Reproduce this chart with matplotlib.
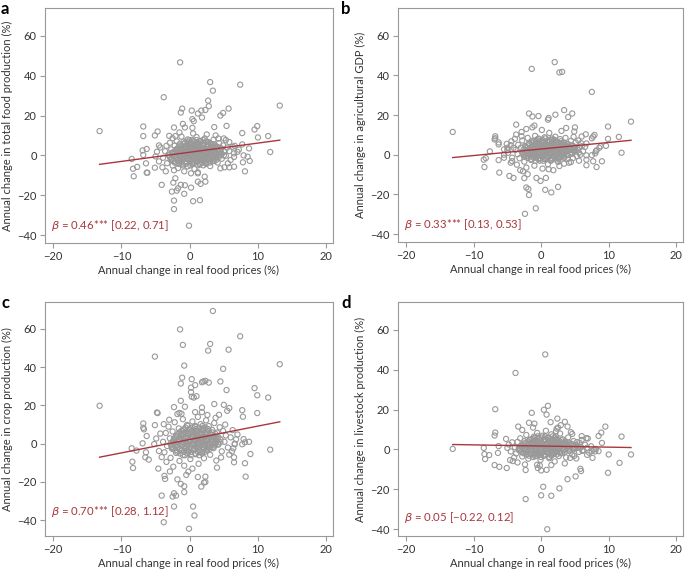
import matplotlib
matplotlib.use("Agg")
import matplotlib.pyplot as plt
import numpy as np

plt.rcParams['font.family'] = ['Lato', 'DejaVu Sans']
plt.rcParams['axes.unicode_minus'] = True

# Panel a: total food production (price change %, production change %)
points_a = [
    (-13.2, 12.2), (-1.4, 46.7), (3.0, 36.8), (7.4, 35.5), (3.4, 32.5), (-3.8, 29.2), (2.7, 27.5),
    (2.8, 24.7), (-1.1, 23.5), (-1.3, 21.5), (0.3, 22.5), (1.2, 21.0), (1.8, 19.0), (1.7, 22.5),
    (2.3, 22.8), (5.7, 23.5), (4.5, 20.0), (4.9, 21.3), (13.2, 25.0), (9.9, 14.7), (9.5, 13.0),
    (5.4, 14.8), (3.6, 14.2), (7.7, 11.2), (11.5, 9.7), (10.0, 9.0), (11.8, 1.7), (-6.8, 14.5),
    (-6.8, 9.7), (-4.7, 12.0), (-5.1, 10.0), (-1.0, 15.8), (-0.7, 14.0), (-2.3, 14.0), (0.4, 18.2),
    (0.6, 17.2), (0.4, 13.8), (-2.1, 9.7), (-8.5, -1.8), (-8.3, -6.7), (-7.7, -5.8), (-8.2, -10.5),
    (-6.3, -8.7), (-6.2, -8.7), (-6.4, -4.0), (-6.8, 0.2), (-6.9, 2.5), (-6.3, 3.2), (-5.1, -6.2),
    (-4.5, 5.0), (-4.1, -14.8), (-2.4, -13.7), (-2.6, -18.2), (-2.3, -22.7), (-2.3, -27.0),
    (-1.9, -17.7), (-1.7, -16.5), (-1.3, -14.8), (-0.8, -19.3), (-0.7, -15.0), (0.2, -16.2),
    (-0.1, -35.3), (0.5, -23.0), (1.5, -22.5), (1.6, -14.3), (1.2, -13.2), (2.3, -13.2),
    (2.2, -10.7), (1.2, -9.0), (0.2, -9.0), (-2.1, -11.5), (8.1, -8.0), (5.1, -6.0), (5.8, -6.0),
    (6.5, -5.7), (7.8, -3.5), (8.8, -2.8), (8.5, -0.7), (7.9, 0.0), (8.7, 3.5), (7.7, 5.5),
    (6.6, 4.8), (5.8, 6.7), (5.3, 7.7), (4.2, 8.5), (6.5, 1.0), (7.0, 1.8),
    (-3.9, -1.2), (-3.6, 2.1), (-3.4, 4.8), (-3.3, -3.9), (-3.1, 0.4), (-2.9, 6.3), (-2.8, -2.2),
    (-2.7, 3.0), (-2.5, 8.6), (-2.5, -5.1), (-2.4, 1.2), (-2.2, 4.9), (-2.1, -0.8), (-2.0, -3.3),
    (-1.9, 7.1), (-1.8, 2.4), (-1.7, -6.4), (-1.6, 0.0), (-1.5, 5.6), (-1.4, -2.0), (-1.3, 3.5),
    (-1.2, 9.4), (-1.1, -4.2), (-1.0, 1.3), (-0.9, 6.9), (-0.8, -1.1), (-0.7, 3.9), (-0.6, -3.0),
    (-0.5, 0.6), (-0.4, 5.2), (-0.3, 8.0), (-0.3, -5.5), (-0.2, 2.2), (-0.1, -0.3), (0.0, 4.1),
    (0.1, 6.4), (0.1, -2.4), (0.2, 1.0), (0.3, 3.1), (0.4, -4.0), (0.4, 7.6), (0.5, -0.9),
    (0.6, 5.0), (0.7, 2.0), (0.7, -6.8), (0.8, 0.2), (0.9, 3.8), (1.0, 9.2), (1.0, -2.8),
    (1.1, 6.0), (1.2, 1.5), (1.3, -1.4), (1.4, 4.4), (1.5, -4.6), (1.5, 2.6), (1.6, 7.3),
    (1.7, 0.3), (1.8, 5.3), (1.9, -2.1), (2.0, 3.3), (2.1, -0.6), (2.2, 8.5), (2.3, 1.8),
    (2.4, -3.7), (2.5, 4.9), (2.6, 0.8), (2.7, 6.7), (2.8, -1.6), (2.9, 2.9), (3.0, -5.4),
    (3.1, 5.8), (3.2, 0.1), (3.3, 3.9), (3.4, -2.6), (3.5, 7.9), (3.6, 1.4), (3.8, -0.9),
    (3.9, 4.6), (4.0, 2.3), (4.1, -3.6), (4.3, 6.1), (4.4, 0.5), (4.6, 3.5), (4.7, -1.7),
    (4.9, 5.0), (5.1, 1.9), (5.3, -0.2), (5.5, 3.9), (5.8, 2.2), (6.0, -2.3),
    (-4.5, -3.0), (-4.3, 4.0), (-4.0, -6.0), (-3.5, -8.0), (-3.0, 9.8), (-5.0, -0.5),
    (-4.8, 1.8), (4.5, -6.5), (5.0, 8.5), (3.8, 10.0), (-1.5, 11.5), (0.5, 11.0), (2.5, 10.5),
    (1.2, -8.5), (-0.8, -8.0), (-2.3, -7.5), (6.3, 4.3), (6.5, -0.8), (7.2, 2.9), (5.6, -4.0),
]
# dense centre of panel a: (y, [x values]) rows
dense_a = [
    (-5.0, [-1.0, 0.1, 1.2, 2.0]),
    (-4.3, [-1.6, -0.6, 0.4, 1.4, 2.4]),
    (-3.6, [-2.2, -1.3, -0.4, 0.5, 1.4, 2.2, 3.0]),
    (-2.9, [-2.4, -1.5, -0.6, 0.3, 1.2, 2.1, 3.0, 3.6]),
    (-2.2, [-2.6, -1.8, -1.0, -0.2, 0.6, 1.5, 2.3, 3.1, 3.9]),
    (-1.5, [-2.7, -1.9, -1.1, -0.3, 0.5, 1.3, 2.1, 2.9, 3.7]),
    (-0.8, [-2.9, -2.1, -1.3, -0.5, 0.3, 1.1, 1.9, 2.7, 3.5, 4.3]),
    (0.0, [-3.0, -2.2, -1.4, -0.6, 0.2, 1.0, 1.8, 2.6, 3.4, 4.2, 5.0]),
    (0.7, [-2.5, -1.7, -0.9, -0.1, 0.7, 1.5, 2.3, 3.1, 3.9, 4.7]),
    (1.4, [-2.6, -1.8, -1.0, -0.2, 0.6, 1.4, 2.2, 3.0, 3.8, 4.6]),
    (2.1, [-2.2, -1.4, -0.6, 0.2, 1.0, 1.8, 2.6, 3.4, 4.2, 5.0]),
    (2.8, [-2.0, -1.2, -0.4, 0.4, 1.2, 2.0, 2.8, 3.6, 4.4]),
    (3.5, [-1.8, -1.0, -0.2, 0.6, 1.4, 2.2, 3.0, 3.8, 4.6]),
    (4.2, [-1.5, -0.7, 0.1, 0.9, 1.7, 2.5, 3.3, 4.1]),
    (4.9, [-1.2, -0.4, 0.4, 1.2, 2.0, 2.8, 3.6]),
    (5.6, [-0.9, 0.0, 0.9, 1.8, 2.7, 3.4]),
    (6.3, [-0.7, 0.2, 1.1, 2.0, 2.9]),
    (7.0, [-0.3, 0.6, 1.5, 2.4]),
    (7.7, [0.0, 1.0, 2.0]),
]

# Panel b: agricultural GDP
points_b = [
    (-13.1, 11.5), (2.0, 46.7), (-1.4, 43.3), (2.7, 41.5), (3.1, 41.8), (7.5, 31.7), (13.3, 16.7),
    (9.9, 14.2), (11.5, 9.0), (9.9, 8.0), (11.9, 1.0), (3.4, 22.5), (4.6, 20.8), (4.0, 19.0),
    (2.1, 20.2), (-1.8, 20.8), (-1.3, 19.3), (-0.4, 19.5), (1.0, 17.7), (1.1, 18.5), (3.7, 13.5),
    (5.0, 13.8), (4.9, 11.7), (-3.7, 15.2), (-2.2, 13.0), (-1.3, 13.8), (-1.0, 14.7), (-3.7, 10.2),
    (-2.9, 9.3), (-6.8, 9.3), (-6.8, 8.3), (-6.9, 7.7), (-6.3, 6.2), (-6.3, 5.2), (-7.6, 1.7),
    (-8.5, -2.5), (-8.2, -1.7), (-8.4, -6.2), (-6.3, -2.7), (-6.2, -9.0), (-4.7, -10.7),
    (-4.1, -11.7), (-2.5, -11.8), (-2.0, -9.8), (-2.2, -16.5), (-1.9, -17.3), (-1.8, -20.3),
    (-2.4, -29.8), (-0.8, -27.0), (0.6, -17.7), (1.5, -19.0), (2.5, -16.2), (-0.7, -11.7),
    (-0.1, -13.2), (0.7, -11.7), (1.1, -7.3), (1.8, -7.8), (2.7, -5.7), (4.1, -4.0), (4.4, -3.7),
    (4.7, -1.7), (6.7, -0.3), (7.5, -0.2), (6.7, -5.3), (6.7, -2.5), (7.7, -3.3), (8.2, -6.2),
    (9.0, -3.3), (8.0, 0.7), (8.1, 1.8), (8.2, 2.2), (8.6, 3.5), (8.8, 4.3), (9.6, 4.5),
    (6.6, 10.3), (7.7, 9.2), (7.9, 10.0), (7.5, 8.3), (6.0, 9.2), (5.5, 7.2), (6.7, 5.7),
    (6.0, 4.3), (5.1, 2.2), (5.6, 1.0), (5.8, 0.0), (-5.1, 5.5), (-5.0, 3.5), (-4.9, 1.0),
    (-4.5, -4.0), (-4.3, -3.2), (-3.1, -7.8), (-2.7, -8.3), (-4.1, 3.5), (-4.4, 6.8), (-5.5, 2.7),
    (-5.0, 2.3), (-5.5, 0.0),
    (-3.8, 2.5), (-3.5, 0.3), (-3.4, 5.0), (-3.2, -1.8), (-3.0, 3.6), (-2.8, 7.2), (-2.7, 1.0),
    (-2.5, -3.5), (-2.4, 4.4), (-2.2, 2.0), (-2.0, 8.5), (-1.9, -0.8), (-1.8, 5.8), (-1.6, 3.1),
    (-1.5, -2.6), (-1.4, 1.5), (-1.3, 7.0), (-1.1, 4.2), (-1.0, 0.0), (-0.9, 9.5), (-0.8, 2.7),
    (-0.7, -1.5), (-0.6, 5.4), (-0.5, 3.6), (-0.4, 1.0), (-0.3, 7.8), (-0.2, -3.0), (-0.1, 4.8),
    (0.0, 2.2), (0.1, 6.2), (0.2, 0.4), (0.3, 3.4), (0.4, -1.9), (0.5, 8.8), (0.6, 5.0),
    (0.7, 1.6), (0.8, 3.9), (0.9, -0.5), (1.0, 6.8), (1.1, 2.5), (1.2, 11.0), (1.3, 4.6),
    (1.4, 0.9), (1.5, -2.8), (1.6, 7.5), (1.7, 3.0), (1.8, 5.6), (1.9, -0.9), (2.0, 2.0),
    (2.1, 9.1), (2.2, 4.0), (2.3, 0.6), (2.4, 6.3), (2.5, -3.6), (2.6, 3.2), (2.7, 1.4),
    (2.8, 7.9), (2.9, 4.9), (3.0, -1.0), (3.1, 2.6), (3.2, 6.0), (3.3, 0.2), (3.5, 4.2),
    (3.6, 8.5), (3.7, 1.9), (3.9, -2.2), (4.0, 5.3), (4.2, 3.0), (4.4, 7.0), (4.5, 0.8),
    (4.7, 4.5), (4.9, 2.1), (5.1, 6.2), (5.3, -0.7), (5.6, 3.6), (5.9, 5.8), (6.2, 1.8), (6.5, 4.0),
    (-4.3, -1.5), (-4.5, 4.8), (-3.9, 8.0), (-3.6, -5.0), (-2.9, 11.5), (-2.2, -6.5),
    (-1.0, -5.5), (0.2, -7.0), (1.0, -4.8), (3.4, -4.5), (3.0, 12.0), (0.1, 12.5), (4.8, 9.0),
    (5.6, -3.0), (-5.5, -1.5), (-2.5, -1.0),
]
dense_b = [
    (-3.0, [-0.8, 0.3, 1.4, 2.4]),
    (-2.3, [-1.4, -0.4, 0.6, 1.6, 2.6]),
    (-1.6, [-2.0, -1.1, -0.2, 0.7, 1.6, 2.5, 3.4]),
    (-0.9, [-2.2, -1.4, -0.6, 0.2, 1.0, 1.8, 2.6, 3.4]),
    (-0.2, [-2.5, -1.7, -0.9, -0.1, 0.7, 1.5, 2.3, 3.1, 3.9]),
    (0.5, [-2.6, -1.8, -1.0, -0.2, 0.6, 1.4, 2.2, 3.0, 3.8, 4.6]),
    (1.2, [-2.8, -2.0, -1.2, -0.4, 0.4, 1.2, 2.0, 2.8, 3.6, 4.4]),
    (1.9, [-2.4, -1.6, -0.8, 0.0, 0.8, 1.6, 2.4, 3.2, 4.0, 4.8]),
    (2.6, [-2.6, -1.8, -1.0, -0.2, 0.6, 1.4, 2.2, 3.0, 3.8, 4.6, 5.4]),
    (3.3, [-2.2, -1.4, -0.6, 0.2, 1.0, 1.8, 2.6, 3.4, 4.2, 5.0]),
    (4.0, [-2.3, -1.5, -0.7, 0.1, 0.9, 1.7, 2.5, 3.3, 4.1, 4.9]),
    (4.7, [-2.0, -1.2, -0.4, 0.4, 1.2, 2.0, 2.8, 3.6, 4.4]),
    (5.4, [-1.8, -1.0, -0.2, 0.6, 1.4, 2.2, 3.0, 3.8]),
    (6.1, [-1.4, -0.6, 0.2, 1.0, 1.8, 2.6, 3.4]),
    (6.8, [-1.1, -0.3, 0.5, 1.3, 2.1, 2.9]),
    (7.5, [-0.7, 0.2, 1.1, 2.0]),
    (8.2, [-0.4, 0.6, 1.6]),
]

# Panel c: crop production
points_c = [
    (-13.2, 19.8), (3.4, 69.3), (-1.4, 59.7), (7.4, 56.1), (-1.0, 51.6), (3.0, 52.1), (2.7, 48.6),
    (5.7, 49.1), (-5.1, 45.5), (-0.8, 40.8), (4.9, 39.1), (13.2, 41.5), (-1.1, 34.5), (-1.3, 31.4),
    (0.3, 33.7), (0.8, 30.6), (1.8, 32.1), (2.0, 32.5), (2.3, 32.8), (2.8, 31.9), (4.5, 32.5),
    (5.4, 28.0), (9.5, 29.0), (9.9, 25.3), (11.5, 24.1), (0.2, 29.3), (0.2, 26.9), (0.3, 24.5),
    (0.6, 24.1), (1.0, 24.8), (-1.3, 22.4), (-2.3, 19.1), (-0.7, 19.3), (3.6, 20.7), (5.0, 20.3),
    (1.8, 18.9), (1.8, 16.5), (5.8, 18.6), (5.5, 17.2), (7.7, 17.5), (7.8, 14.1), (4.3, 15.1),
    (9.9, 16.0), (-4.8, 16.3), (-4.7, 16.0), (-1.5, 16.1), (-1.2, 15.6), (-6.8, 10.6), (-6.8, 8.3),
    (-6.7, 7.5), (-5.1, 9.7), (-3.8, 10.2), (-6.3, 4.0), (-6.9, 0.2), (-8.5, -2.4), (-7.8, -3.6),
    (-8.4, -9.4), (-8.3, -12.7), (-6.4, -4.5), (-6.5, -7.1), (-6.0, -8.3), (-4.6, -13.0),
    (-3.7, -16.8), (-3.6, -18.4), (-4.1, -27.1), (-2.3, -25.9), (-2.5, -27.6), (-2.0, -27.1),
    (-2.3, -32.8), (-3.8, -41.0), (-0.1, -44.4), (0.5, -32.8), (0.7, -37.5), (-0.8, -25.3),
    (-0.8, -22.2), (-1.3, -21.0), (-1.8, -18.6), (-0.5, -16.3), (-0.2, -14.6), (1.2, -17.4),
    (1.7, -22.4), (2.3, -20.0), (2.1, -20.3), (2.3, -17.2), (4.0, -12.5), (6.5, -9.7), (6.5, -7.1),
    (5.8, -5.7), (8.1, -10.2), (8.2, -17.2), (8.9, -5.4), (11.8, -3.1), (7.7, -0.3), (8.1, 0.7),
    (8.7, 1.0), (7.9, 2.4), (6.6, -0.3), (6.8, 2.3), (6.4, -2.4),
    (-3.9, 1.0), (-3.7, -4.5), (-3.5, 5.6), (-3.3, -1.2), (-3.1, 8.9), (-2.9, 2.8), (-2.8, -7.4),
    (-2.6, -2.6), (-2.5, 6.4), (-2.3, 0.3), (-2.2, 11.2), (-2.0, -4.8), (-1.9, 3.9), (-1.8, -0.9),
    (-1.6, 8.0), (-1.5, -9.0), (-1.4, 1.8), (-1.3, 5.0), (-1.1, -3.3), (-1.0, 12.8), (-0.9, 0.5),
    (-0.8, 7.0), (-0.7, -6.0), (-0.6, 3.3), (-0.5, -1.8), (-0.4, 9.8), (-0.3, 5.4), (-0.2, -4.0),
    (-0.1, 1.4), (0.0, 7.6), (0.1, -8.0), (0.2, 3.9), (0.3, -0.4), (0.4, 11.6), (0.5, 5.9),
    (0.6, -2.7), (0.7, 2.2), (0.8, 8.7), (0.9, -5.5), (1.0, 4.5), (1.1, 0.6), (1.2, 14.0),
    (1.3, 6.6), (1.4, -1.6), (1.5, 2.9), (1.6, 10.2), (1.7, -4.3), (1.8, 5.0), (1.9, 0.9),
    (2.0, 7.9), (2.1, -7.6), (2.2, 3.5), (2.3, -0.8), (2.4, 12.2), (2.5, 6.0), (2.6, -3.1),
    (2.7, 2.0), (2.8, 9.2), (3.0, -5.8), (3.1, 4.4), (3.2, 0.0), (3.3, 7.2), (3.5, -2.3),
    (3.6, 10.8), (3.8, 3.0), (3.9, -8.8), (4.0, 5.8), (4.2, -0.5), (4.4, 8.6), (4.5, 2.4),
    (4.7, -4.0), (4.9, 6.7), (5.1, 1.0), (5.3, 4.3), (5.6, -2.0), (6.0, 3.3), (6.3, 7.1), (6.6, 0.0),
    (-4.5, -3.8), (-4.3, 5.3), (-4.1, -7.0), (-3.4, -9.5), (-3.0, 12.5), (-5.2, -0.2), (-4.9, 2.7),
    (4.6, -7.2), (5.2, 10.0), (3.8, 13.5), (-1.8, 15.5), (0.8, 16.5), (2.6, 15.0), (1.3, -10.5),
    (-0.8, -11.5), (-2.4, -12.0), (6.2, -4.0), (7.0, 4.8), (-2.9, -14.5), (0.4, -13.0),
]
dense_c = [
    (-6.0, [-1.0, 0.2, 1.4]),
    (-5.1, [-1.4, -0.3, 0.8, 1.8]),
    (-4.3, [-1.8, -0.8, 0.2, 1.2, 2.2]),
    (-3.4, [-2.1, -1.2, -0.3, 0.6, 1.5, 2.5]),
    (-2.6, [-2.4, -1.5, -0.6, 0.3, 1.2, 2.1, 3.0]),
    (-1.7, [-2.6, -1.7, -0.8, 0.1, 1.0, 1.9, 2.8, 3.4]),
    (-0.9, [-2.7, -1.9, -1.1, -0.3, 0.5, 1.3, 2.1, 2.9, 3.7]),
    (0.0, [-2.8, -2.0, -1.2, -0.4, 0.4, 1.2, 2.0, 2.8, 3.6, 4.2]),
    (0.8, [-2.5, -1.7, -0.9, -0.1, 0.7, 1.5, 2.3, 3.1, 3.9, 4.5]),
    (1.6, [-2.4, -1.6, -0.8, 0.0, 0.8, 1.6, 2.4, 3.2, 4.0]),
    (2.5, [-2.3, -1.5, -0.7, 0.1, 0.9, 1.7, 2.5, 3.3, 4.1]),
    (3.3, [-2.1, -1.3, -0.5, 0.3, 1.1, 1.9, 2.7, 3.5, 4.2]),
    (4.2, [-2.0, -1.2, -0.4, 0.4, 1.2, 2.0, 2.8, 3.6]),
    (5.0, [-1.7, -0.9, -0.1, 0.7, 1.5, 2.3, 3.1, 3.8]),
    (5.9, [-1.5, -0.7, 0.1, 0.9, 1.7, 2.5, 3.3]),
    (6.7, [-1.2, -0.4, 0.4, 1.2, 2.0, 2.8]),
    (7.6, [-0.9, 0.0, 0.9, 1.8, 2.7]),
    (8.4, [-0.6, 0.4, 1.4, 2.3]),
    (9.3, [-0.3, 0.8, 1.9]),
]

# Panel d: livestock production
points_d = [
    (-13.1, 0.3), (0.6, 47.7), (-3.8, 38.4), (-6.8, 20.2), (0.4, 19.9), (1.0, 21.9), (0.8, 17.5),
    (-1.4, 18.4), (2.4, 15.5), (1.4, 13.7), (3.5, 13.9), (3.9, 11.5), (9.5, 11.5), (8.9, 8.5),
    (8.5, 6.8), (11.9, 6.5), (9.0, 3.3), (-3.4, 11.5), (-1.8, 13.4), (-1.0, 13.0), (-6.8, 8.5),
    (-6.9, 7.0), (-5.2, 5.3), (-8.5, 0.8), (-8.4, -2.3), (-8.3, -4.8), (-7.7, -2.8), (-6.3, 1.7),
    (-6.4, -1.7), (-6.9, -7.8), (-6.2, -8.7), (-5.1, -9.3), (-4.6, -5.3), (-4.2, -5.8),
    (-2.3, -10.3), (-2.3, -24.9), (0.0, -23.0), (0.3, -18.7), (1.5, -23.2), (2.7, -19.5),
    (3.9, -14.9), (0.9, -40.0), (5.1, -13.5), (5.8, -9.7), (5.9, -10.8), (9.9, -11.7),
    (11.6, -6.7), (13.3, -2.5), (10.0, -2.5), (8.1, 0.3), (7.6, -4.2), (6.8, -2.7), (6.1, -0.7),
    (0.8, -10.2), (0.0, -10.5), (-0.5, -9.3), (-0.6, -7.7), (4.3, -4.2), (4.9, -3.2), (6.7, 5.7),
    (6.9, 5.5), (5.7, 3.3), (5.3, 3.7), (6.0, 6.7), (4.6, 7.8), (2.9, 12.2), (2.5, 11.0),
    (2.2, 9.2), (8.0, -1.0), (7.5, -0.8), (8.5, -0.8),
    (-3.9, 1.2), (-3.7, -2.0), (-3.5, 3.8), (-3.3, -0.3), (-3.1, 5.6), (-2.9, 1.9), (-2.8, -3.5),
    (-2.6, 0.4), (-2.5, 4.2), (-2.3, -1.4), (-2.2, 7.3), (-2.0, 2.6), (-1.9, -4.6), (-1.8, 0.9),
    (-1.6, 5.0), (-1.5, -2.3), (-1.4, 3.2), (-1.3, -0.1), (-1.1, 6.4), (-1.0, 1.6), (-0.9, -3.4),
    (-0.8, 4.4), (-0.7, 0.2), (-0.6, 8.3), (-0.5, 2.4), (-0.4, -1.7), (-0.3, 5.5), (-0.2, 0.8),
    (-0.1, -5.2), (0.0, 3.4), (0.1, -0.6), (0.2, 6.9), (0.3, 1.8), (0.4, -2.9), (0.5, 4.7),
    (0.6, 0.3), (0.7, 9.4), (0.8, 2.6), (0.9, -1.3), (1.0, 5.8), (1.1, 1.0), (1.2, -4.4),
    (1.3, 3.6), (1.4, -0.4), (1.5, 7.6), (1.6, 2.1), (1.7, -2.4), (1.8, 4.8), (1.9, 0.5),
    (2.0, -6.0), (2.1, 3.0), (2.2, 6.5), (2.3, -1.0), (2.4, 1.7), (2.5, 4.0), (2.6, -3.3),
    (2.7, 0.6), (2.8, 8.0), (3.0, 2.3), (3.1, -1.8), (3.2, 5.1), (3.4, 0.1), (3.5, 3.3),
    (3.7, -4.0), (3.9, 1.5), (4.0, 6.1), (4.2, -0.8), (4.4, 2.8), (4.6, -2.6), (4.8, 4.2),
    (5.0, 0.7), (5.3, 2.0), (5.6, -1.2), (5.9, 1.1), (6.2, -0.3), (6.5, 2.4), (6.8, 0.9),
    (7.1, -1.6), (7.4, 1.6), (7.8, 0.0),
    (-4.5, -1.0), (-4.3, 3.6), (-4.0, -4.0), (-3.5, -6.5), (-2.8, 9.8), (-5.0, 0.8),
    (-4.8, 2.5), (3.5, -7.0), (4.4, 8.7), (2.3, 10.5), (-1.2, 11.0), (-0.2, -8.0), (1.5, -7.8),
    (-2.4, -7.5), (6.0, 4.8), (5.2, -4.5),
]
dense_d = [
    (-3.8, [-1.2, 0.0, 1.2]),
    (-3.1, [-1.8, -0.7, 0.4, 1.5]),
    (-2.5, [-2.2, -1.3, -0.4, 0.5, 1.4, 2.3]),
    (-1.9, [-2.6, -1.7, -0.8, 0.1, 1.0, 1.9, 2.8]),
    (-1.2, [-2.9, -2.1, -1.3, -0.5, 0.3, 1.1, 1.9, 2.7, 3.5]),
    (-0.5, [-3.1, -2.3, -1.5, -0.7, 0.1, 0.9, 1.7, 2.5, 3.3, 4.1]),
    (0.1, [-3.2, -2.4, -1.6, -0.8, 0.0, 0.8, 1.6, 2.4, 3.2, 4.0, 4.8]),
    (0.8, [-3.3, -2.5, -1.7, -0.9, -0.1, 0.7, 1.5, 2.3, 3.1, 3.9, 4.7, 5.4]),
    (1.4, [-3.0, -2.2, -1.4, -0.6, 0.2, 1.0, 1.8, 2.6, 3.4, 4.2, 5.0, 5.8]),
    (2.1, [-2.8, -2.0, -1.2, -0.4, 0.4, 1.2, 2.0, 2.8, 3.6, 4.4, 5.2]),
    (2.7, [-2.6, -1.8, -1.0, -0.2, 0.6, 1.4, 2.2, 3.0, 3.8, 4.6]),
    (3.4, [-2.3, -1.5, -0.7, 0.1, 0.9, 1.7, 2.5, 3.3, 4.1]),
    (4.0, [-2.0, -1.2, -0.4, 0.4, 1.2, 2.0, 2.8, 3.6]),
    (4.7, [-1.7, -0.9, -0.1, 0.7, 1.5, 2.3, 3.0]),
    (5.3, [-1.3, -0.4, 0.5, 1.4, 2.3]),
    (6.0, [-0.9, 0.1, 1.1, 2.0]),
    (6.6, [-0.5, 0.6, 1.7]),
]

panel_letters = ['a', 'b', 'c', 'd']
y_labels = [
    'Annual change in total food production (%)',
    'Annual change in agricultural GDP (%)',
    'Annual change in crop production (%)',
    'Annual change in livestock production (%)',
]
x_label = 'Annual change in real food prices (%)'
fit_intercept = [1.57, 2.9, 2.2, 1.75]
fit_slope = [0.46, 0.33, 0.70, -0.057]
beta_text = ['0.46*** [0.22, 0.71]', '0.33*** [0.13, 0.53]',
             '0.70*** [0.28, 1.12]', '0.05 [\u22120.22, 0.12]']
beta_y = [-35.3, -35.3, -35.4, -34.0]
y_bottom = [-44, -44, -48.2, -43.4]

all_points = [points_a, points_b, points_c, points_d]
all_dense = [dense_a, dense_b, dense_c, dense_d]

W, H = 685, 573
fig = plt.figure(figsize=(W / 100, H / 100), dpi=100)
# axes boxes in pixels: left, top, right, bottom
boxes = [(45, 8, 333, 243), (398, 8, 683, 242), (45, 302, 333, 536), (398, 302, 683, 536)]
letter_pos = [(1, 9), (341, 9), (1, 303), (341, 303)]

grey = '#999999'
red = '#a8373d'
txt = '#333333'

for i, pts in enumerate(all_points):
    l, t, r, b = boxes[i]
    ax = fig.add_axes([l / W, 1 - b / H, (r - l) / W, (b - t) / H])
    x = [p[0] for p in pts]
    y = [p[1] for p in pts]
    for yy, xrow in all_dense[i]:
        x += xrow
        y += [yy] * len(xrow)
    x = np.array(x)
    y = np.array(y)
    ax.scatter(x, y, s=14, facecolors='none', edgecolors=grey, linewidths=0.8, zorder=2)
    xs = np.array([x.min(), x.max()])
    ax.plot(xs, fit_intercept[i] + fit_slope[i] * xs, color=red, lw=1.0, zorder=3)
    ax.text(-20.3, beta_y[i], r'$\beta$ = ' + beta_text[i], color=red, fontsize=8.2,
            ha='left', va='center')
    ax.set_xlim(-21.2, 21)
    ax.set_ylim(y_bottom[i], 74)
    ax.set_xticks([-20, -10, 0, 10, 20])
    ax.set_yticks([-40, -20, 0, 20, 40, 60])
    for s in ax.spines.values():
        s.set_color(grey)
        s.set_linewidth(0.8)
    ax.tick_params(colors=grey, labelcolor=txt, labelsize=8, length=3.5, width=0.8, pad=2.5)
    ax.set_xlabel(x_label, fontsize=8, color=txt, labelpad=2)
    ax.set_ylabel(y_labels[i], fontsize=8, color=txt, labelpad=3)
    fig.text(letter_pos[i][0] / W, 1 - letter_pos[i][1] / H, panel_letters[i], fontsize=12,
             fontweight='bold', ha='left', va='center', color='black')

fig.savefig('out.png', dpi=100)
